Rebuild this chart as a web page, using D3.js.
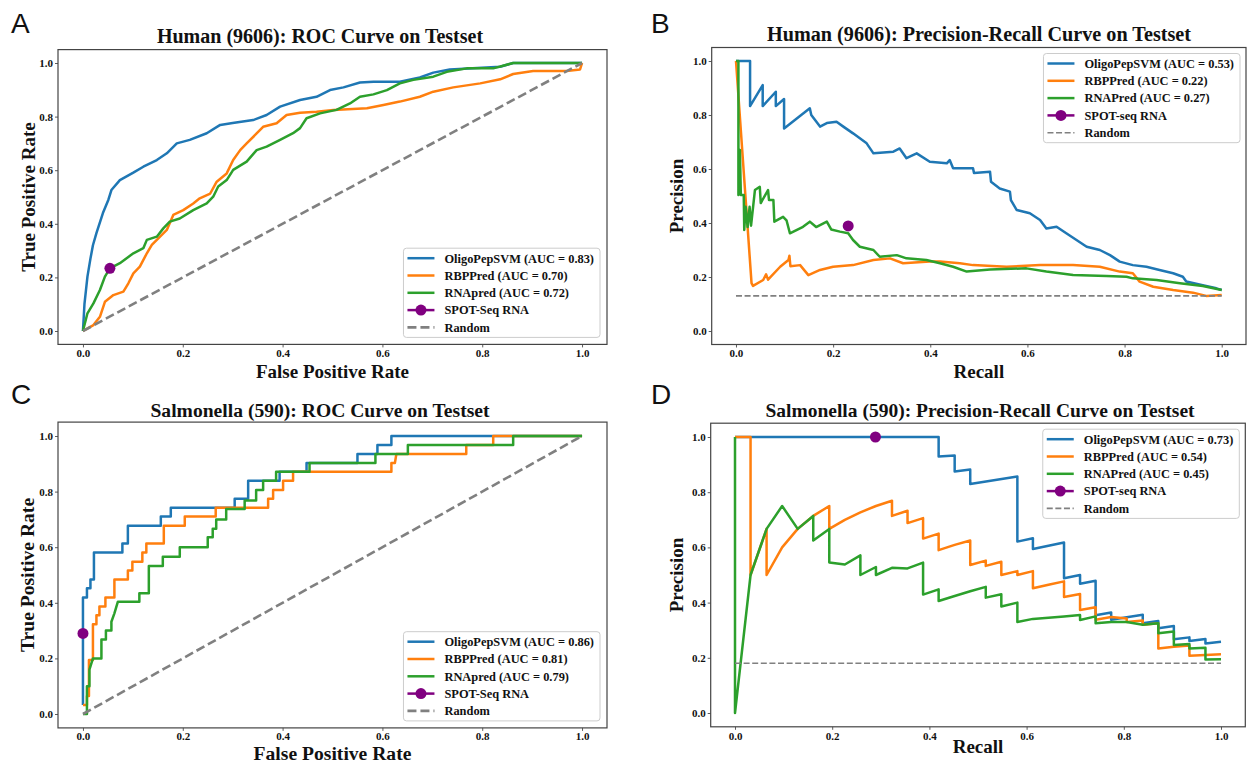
<!DOCTYPE html>
<html>
<head>
<meta charset="utf-8">
<script src="https://cdn.jsdelivr.net/npm/d3@7"></script>
<style>
  body { margin: 0; background: #fff; }
  svg text { font-family: "Liberation Serif", "Times New Roman", serif; font-weight: bold; fill: #111; }
  svg text.letter { font-family: "Liberation Sans", "DejaVu Sans", sans-serif; font-weight: normal; }
</style>
</head>
<body>
<div id="chart"></div>
<script>
// ---- data ----
const ticks = [0, 0.2, 0.4, 0.6, 0.8, 1.0];

// A: Human ROC  [fpr, tpr]
const humanRocOligo = [[0,0],[0.003,0.1],[0.009,0.203],[0.015,0.27],[0.02,0.32],[0.027,0.365],[0.04,0.44],[0.051,0.49],[0.057,0.526],[0.074,0.563],[0.1,0.59],[0.121,0.613],[0.148,0.638],[0.168,0.663],[0.188,0.70],[0.214,0.713],[0.248,0.738],[0.275,0.769],[0.30,0.776],[0.341,0.787],[0.368,0.806],[0.395,0.837],[0.435,0.862],[0.468,0.874],[0.495,0.899],[0.522,0.909],[0.555,0.927],[0.582,0.930],[0.635,0.930],[0.675,0.946],[0.702,0.964],[0.735,0.976],[0.836,0.986],[0.862,1.0],[1.0,1.0]];
const humanRocRbp = [[0,0],[0.021,0.022],[0.034,0.053],[0.044,0.109],[0.061,0.134],[0.081,0.147],[0.091,0.178],[0.101,0.215],[0.114,0.24],[0.128,0.29],[0.138,0.321],[0.151,0.346],[0.168,0.377],[0.181,0.433],[0.201,0.451],[0.221,0.476],[0.234,0.495],[0.255,0.513],[0.268,0.557],[0.288,0.588],[0.301,0.638],[0.315,0.675],[0.328,0.70],[0.348,0.737],[0.361,0.762],[0.388,0.775],[0.408,0.806],[0.435,0.814],[0.468,0.818],[0.502,0.825],[0.569,0.831],[0.602,0.843],[0.635,0.856],[0.675,0.874],[0.702,0.893],[0.742,0.909],[0.796,0.924],[0.836,0.939],[0.862,0.959],[0.902,0.97],[0.969,0.97],[0.996,0.976],[1.0,1.0]];
const humanRocRna = [[0,0],[0.009,0.066],[0.021,0.103],[0.034,0.153],[0.044,0.203],[0.054,0.234],[0.074,0.253],[0.101,0.29],[0.121,0.309],[0.128,0.34],[0.148,0.352],[0.161,0.383],[0.174,0.408],[0.194,0.42],[0.221,0.451],[0.248,0.476],[0.261,0.501],[0.271,0.539],[0.288,0.563],[0.301,0.601],[0.328,0.632],[0.348,0.675],[0.368,0.688],[0.395,0.713],[0.421,0.738],[0.435,0.757],[0.448,0.794],[0.475,0.812],[0.508,0.825],[0.535,0.849],[0.555,0.874],[0.582,0.883],[0.609,0.899],[0.635,0.924],[0.662,0.937],[0.702,0.949],[0.729,0.967],[0.769,0.98],[0.822,0.98],[0.862,1.0],[1.0,1.0]];
const humanRocSpot = [0.054, 0.234];
const humanRocAuc = ['0.83', '0.70', '0.72'];

// B: Human precision-recall  [recall, precision]
const humanPrOligo = [[0,1],[0.029,1],[0.029,0.833],[0.055,0.911],[0.055,0.833],[0.082,0.886],[0.082,0.833],[0.099,0.859],[0.099,0.75],[0.152,0.825],[0.155,0.80],[0.173,0.757],[0.187,0.77],[0.207,0.775],[0.221,0.757],[0.241,0.732],[0.269,0.695],[0.283,0.658],[0.324,0.664],[0.337,0.676],[0.351,0.64],[0.372,0.658],[0.399,0.627],[0.434,0.621],[0.44,0.633],[0.447,0.603],[0.488,0.603],[0.49,0.585],[0.523,0.59],[0.525,0.553],[0.543,0.528],[0.564,0.516],[0.566,0.485],[0.578,0.448],[0.605,0.436],[0.626,0.411],[0.639,0.38],[0.66,0.386],[0.68,0.362],[0.701,0.337],[0.722,0.312],[0.749,0.30],[0.77,0.281],[0.79,0.257],[0.817,0.244],[0.845,0.238],[0.872,0.226],[0.90,0.214],[0.92,0.201],[0.927,0.183],[0.961,0.17],[0.989,0.158],[1.0,0.152]];
const humanPrRbp = [[0,1],[0.032,0.177],[0.035,0.167],[0.056,0.189],[0.062,0.21],[0.066,0.19],[0.091,0.238],[0.108,0.263],[0.11,0.279],[0.112,0.24],[0.132,0.244],[0.149,0.207],[0.173,0.226],[0.20,0.238],[0.241,0.244],[0.283,0.263],[0.317,0.269],[0.344,0.251],[0.399,0.257],[0.42,0.257],[0.461,0.251],[0.488,0.244],[0.557,0.238],[0.626,0.244],[0.694,0.244],[0.749,0.238],[0.79,0.22],[0.817,0.214],[0.831,0.183],[0.859,0.164],[0.90,0.152],[0.941,0.142],[0.968,0.13],[1.0,0.133]];
const humanPrRna = [[0,1],[0.005,1],[0.005,0.504],[0.008,0.67],[0.01,0.504],[0.016,0.504],[0.017,0.374],[0.02,0.46],[0.024,0.385],[0.028,0.46],[0.031,0.39],[0.039,0.522],[0.049,0.534],[0.051,0.474],[0.066,0.522],[0.068,0.485],[0.077,0.485],[0.079,0.405],[0.097,0.423],[0.104,0.41],[0.111,0.362],[0.138,0.386],[0.152,0.405],[0.165,0.385],[0.187,0.405],[0.196,0.376],[0.214,0.368],[0.231,0.362],[0.241,0.337],[0.255,0.312],[0.283,0.30],[0.296,0.275],[0.331,0.281],[0.351,0.269],[0.392,0.263],[0.42,0.251],[0.447,0.238],[0.475,0.22],[0.523,0.228],[0.598,0.232],[0.639,0.22],[0.694,0.207],[0.763,0.204],[0.804,0.201],[0.817,0.195],[0.866,0.189],[0.914,0.177],[0.961,0.167],[1.0,0.152]];
const humanPrSpot = [0.231, 0.389];
const humanPrRandom = 0.13;
const humanPrAuc = ['0.53', '0.22', '0.27'];

// C: Salmonella ROC
const salmRocOligo = [[0,0.032],[0,0.419],[0.008,0.419],[0.008,0.452],[0.015,0.452],[0.015,0.484],[0.022,0.484],[0.022,0.581],[0.079,0.581],[0.079,0.613],[0.09,0.613],[0.09,0.677],[0.156,0.677],[0.156,0.71],[0.176,0.71],[0.176,0.742],[0.304,0.742],[0.304,0.774],[0.331,0.774],[0.331,0.839],[0.394,0.839],[0.394,0.871],[0.448,0.871],[0.448,0.903],[0.55,0.903],[0.55,0.935],[0.59,0.935],[0.59,0.968],[0.618,0.968],[0.618,1.0],[1.0,1.0]];
const salmRocRbp = [[0,0.032],[0.008,0.032],[0.008,0.065],[0.012,0.065],[0.012,0.194],[0.02,0.194],[0.02,0.323],[0.027,0.323],[0.027,0.355],[0.033,0.355],[0.033,0.387],[0.045,0.387],[0.045,0.419],[0.063,0.419],[0.063,0.484],[0.09,0.484],[0.09,0.516],[0.099,0.516],[0.099,0.548],[0.119,0.548],[0.119,0.581],[0.127,0.581],[0.127,0.613],[0.162,0.613],[0.162,0.677],[0.204,0.677],[0.204,0.71],[0.266,0.71],[0.266,0.742],[0.371,0.742],[0.371,0.774],[0.381,0.774],[0.381,0.806],[0.401,0.806],[0.401,0.839],[0.421,0.839],[0.421,0.871],[0.618,0.871],[0.618,0.903],[0.625,0.903],[0.628,0.935],[0.768,0.935],[0.768,0.968],[0.822,0.968],[0.822,1.0],[1.0,1.0]];
const salmRocRna = [[0,0],[0.008,0],[0.008,0.1],[0.013,0.1],[0.013,0.16],[0.02,0.2],[0.037,0.2],[0.037,0.268],[0.046,0.268],[0.046,0.3],[0.057,0.3],[0.057,0.332],[0.063,0.362],[0.07,0.404],[0.113,0.404],[0.113,0.434],[0.132,0.434],[0.132,0.532],[0.16,0.532],[0.16,0.566],[0.194,0.566],[0.194,0.6],[0.25,0.6],[0.25,0.636],[0.26,0.636],[0.26,0.666],[0.267,0.666],[0.267,0.70],[0.287,0.70],[0.287,0.737],[0.324,0.737],[0.324,0.768],[0.347,0.768],[0.347,0.806],[0.361,0.806],[0.361,0.839],[0.387,0.839],[0.387,0.871],[0.454,0.871],[0.454,0.903],[0.586,0.903],[0.586,0.935],[0.651,0.935],[0.651,0.968],[0.862,0.968],[0.862,1.0],[1.0,1.0]];
const salmRocSpot = [0, 0.29];
const salmRocAuc = ['0.86', '0.81', '0.79'];

// D: Salmonella precision-recall
const salmPrOligo = [[0,1],[0.419,1],[0.419,0.929],[0.452,0.933],[0.452,0.875],[0.484,0.882],[0.484,0.83],[0.581,0.857],[0.581,0.621],[0.613,0.633],[0.613,0.594],[0.645,0.606],[0.677,0.618],[0.677,0.488],[0.71,0.5],[0.71,0.468],[0.742,0.479],[0.742,0.354],[0.774,0.364],[0.774,0.338],[0.806,0.347],[0.839,0.356],[0.839,0.325],[0.871,0.333],[0.871,0.307],[0.903,0.315],[0.903,0.267],[0.935,0.274],[0.935,0.261],[0.968,0.268],[0.968,0.252],[1.0,0.258]];
const salmPrRbp = [[0,1],[0.032,1],[0.032,0.5],[0.065,0.667],[0.065,0.5],[0.097,0.6],[0.129,0.667],[0.161,0.714],[0.194,0.75],[0.194,0.667],[0.226,0.7],[0.258,0.727],[0.29,0.75],[0.323,0.769],[0.323,0.714],[0.355,0.733],[0.355,0.688],[0.387,0.706],[0.387,0.632],[0.419,0.65],[0.419,0.59],[0.452,0.609],[0.484,0.625],[0.484,0.536],[0.516,0.552],[0.516,0.533],[0.548,0.548],[0.548,0.5],[0.581,0.514],[0.581,0.5],[0.613,0.514],[0.613,0.452],[0.645,0.465],[0.677,0.477],[0.677,0.42],[0.71,0.431],[0.71,0.373],[0.742,0.383],[0.742,0.338],[0.774,0.348],[0.806,0.342],[0.806,0.33],[0.839,0.335],[0.839,0.32],[0.871,0.325],[0.871,0.234],[0.903,0.24],[0.935,0.245],[0.935,0.207],[0.968,0.21],[1.0,0.213]];
const salmPrRna = [[0,1],[0,0],[0.032,0.5],[0.065,0.667],[0.097,0.75],[0.129,0.667],[0.161,0.714],[0.161,0.625],[0.194,0.667],[0.194,0.545],[0.226,0.538],[0.258,0.571],[0.258,0.5],[0.29,0.529],[0.29,0.5],[0.323,0.526],[0.355,0.524],[0.387,0.545],[0.387,0.429],[0.419,0.448],[0.419,0.406],[0.452,0.424],[0.484,0.441],[0.516,0.457],[0.516,0.418],[0.548,0.43],[0.548,0.386],[0.581,0.4],[0.581,0.33],[0.613,0.341],[0.645,0.345],[0.677,0.35],[0.71,0.355],[0.71,0.337],[0.742,0.35],[0.742,0.325],[0.774,0.33],[0.806,0.33],[0.839,0.32],[0.871,0.325],[0.871,0.289],[0.903,0.295],[0.903,0.246],[0.935,0.25],[0.935,0.234],[0.968,0.236],[0.968,0.194],[1.0,0.195]];
const salmPrSpot = [0.289, 1.0];
const salmPrRandom = 0.18;
const salmPrAuc = ['0.73', '0.54', '0.45'];

const rocRandom = [[0, 0], [1, 1]];

// ---- drawing ----
const width = 1249, height = 764;
const colors = ['#1f77b4', '#ff7f0e', '#2ca02c'];
const spotColor = '#800080';
const randomColor = '#808080';

const svg = d3.select('#chart').append('svg')
  .attr('width', width)
  .attr('height', height);

function drawPanel(p) {
  const x = d3.scaleLinear().domain([-0.05, 1.05]).range([p.box.l, p.box.r]);
  const y = d3.scaleLinear().domain([-0.05, 1.05]).range([p.box.b, p.box.t]);
  const g = svg.append('g');

  // panel letter
  g.append('text').attr('class', 'letter')
    .attr('x', p.letterX).attr('y', p.letterY)
    .style('font-size', '28px')
    .text(p.letter);

  // title
  g.append('text')
    .attr('x', p.titleX).attr('y', p.titleY)
    .attr('text-anchor', 'middle')
    .style('font-size', p.titleSize + 'px')
    .text(p.title);

  // axes: short outward ticks + labels
  const xAxis = g.append('g')
    .attr('transform', 'translate(0,' + p.box.b + ')')
    .call(d3.axisBottom(x).tickValues(ticks).tickFormat(d3.format('.1f')).tickSize(3).tickPadding(p.xPad));
  const yAxis = g.append('g')
    .attr('transform', 'translate(' + p.box.l + ',0)')
    .call(d3.axisLeft(y).tickValues(ticks).tickFormat(d3.format('.1f')).tickSize(3).tickPadding(2));
  [xAxis, yAxis].forEach(a => {
    a.select('.domain').remove();
    a.selectAll('line').attr('stroke', '#333').attr('stroke-width', 0.8);
    a.selectAll('text')
      .style('font-family', '"Liberation Serif", "Times New Roman", serif')
      .style('font-weight', 'bold')
      .style('font-size', '11px')
      .attr('fill', '#111');
  });

  // axis labels
  g.append('text')
    .attr('x', (p.box.l + p.box.r) / 2).attr('y', p.xLabelY)
    .attr('text-anchor', 'middle')
    .style('font-size', p.labelSize + 'px')
    .text(p.xLabel);
  g.append('text')
    .attr('transform', 'translate(' + p.yLabelX + ',' + (p.box.t + p.box.b) / 2 + ') rotate(-90)')
    .attr('text-anchor', 'middle')
    .style('font-size', p.labelSize + 'px')
    .text(p.yLabel);

  const line = d3.line().x(d => x(d[0])).y(d => y(d[1]));

  // method curves
  p.series.forEach((s, i) => {
    g.append('path')
      .datum(s)
      .attr('d', line)
      .attr('fill', 'none')
      .attr('stroke', colors[i])
      .attr('stroke-width', 2.5)
      .attr('stroke-linejoin', 'round');
  });

  // spot-seq single point
  g.append('circle')
    .attr('cx', x(p.spot[0])).attr('cy', y(p.spot[1]))
    .attr('r', 5.5)
    .attr('fill', spotColor);

  // random baseline
  g.append('path')
    .datum(p.random)
    .attr('d', line)
    .attr('fill', 'none')
    .attr('stroke', randomColor)
    .attr('stroke-width', p.randomWidth)
    .attr('stroke-dasharray', p.randomDash);

  // frame
  g.append('rect')
    .attr('x', p.box.l).attr('y', p.box.t)
    .attr('width', p.box.r - p.box.l).attr('height', p.box.b - p.box.t)
    .attr('fill', 'none')
    .attr('stroke', '#444')
    .attr('stroke-width', 1.2);

  // legend
  const labels = [
    'OligoPepSVM (AUC = ' + p.auc[0] + ')',
    'RBPPred (AUC = ' + p.auc[1] + ')',
    p.rnaName + ' (AUC = ' + p.auc[2] + ')',
    p.spotName,
    'Random'
  ];
  const rowH = 17.3;
  const legH = 20 + rowH * 4;
  const lg = g.append('g');
  const frame = lg.append('rect')
    .attr('rx', 3).attr('ry', 3)
    .attr('fill', 'rgba(255,255,255,0.85)')
    .attr('stroke', '#ccc')
    .attr('stroke-width', 1);
  const texts = lg.selectAll('text.leg')
    .data(labels)
    .enter().append('text')
    .attr('class', 'leg')
    .attr('x', 41)
    .attr('y', (d, i) => 10 + i * rowH)
    .attr('dy', '0.35em')
    .style('font-size', '12.4px')
    .text(d => d);
  let maxW = 0;
  texts.each(function () { maxW = Math.max(maxW, this.getComputedTextLength()); });
  const legW = 41 + maxW + 6;
  frame.attr('width', legW).attr('height', legH);

  labels.forEach((lab, i) => {
    const yy = 10 + i * rowH;
    const h = lg.append('line')
      .attr('x1', 4).attr('x2', 31).attr('y1', yy).attr('y2', yy);
    if (i < 3) {
      h.attr('stroke', colors[i]).attr('stroke-width', 2.5);
    } else if (i === 3) {
      h.attr('stroke', spotColor).attr('stroke-width', 2.5);
      lg.append('circle').attr('cx', 17.5).attr('cy', yy).attr('r', 5.5).attr('fill', spotColor);
    } else {
      h.attr('stroke', randomColor).attr('stroke-width', p.randomWidth).attr('stroke-dasharray', p.randomDash);
    }
  });

  const legX = p.box.r - p.legendGap - legW;
  const legY = p.legendPos === 'lower' ? p.box.b - p.legendGap - legH : p.box.t + p.legendGap;
  lg.attr('transform', 'translate(' + legX + ',' + legY + ')');
}

const panels = [
  {
    letter: 'A', letterX: 11, letterY: 33,
    title: 'Human (9606): ROC Curve on Testset', titleX: 320, titleY: 43, titleSize: 20,
    xLabel: 'False Positive Rate', xLabelY: 378, labelSize: 19, xPad: 2,
    yLabel: 'True Positive Rate', yLabelX: 35,
    box: { l: 58, r: 607, t: 49.6, b: 344.4 },
    series: [humanRocOligo, humanRocRbp, humanRocRna],
    spot: humanRocSpot, spotName: 'SPOT-Seq RNA', rnaName: 'RNApred',
    random: rocRandom, randomWidth: 2.6, randomDash: '9,4',
    auc: humanRocAuc, legendPos: 'lower', legendGap: 7
  },
  {
    letter: 'B', letterX: 651, letterY: 33,
    title: 'Human (9606): Precision-Recall Curve on Testset', titleX: 979, titleY: 41, titleSize: 20.2,
    xLabel: 'Recall', xLabelY: 378, labelSize: 19, xPad: 2,
    yLabel: 'Precision', yLabelX: 683,
    box: { l: 711.7, r: 1246, t: 47.5, b: 344.5 },
    series: [humanPrOligo, humanPrRbp, humanPrRna],
    spot: humanPrSpot, spotName: 'SPOT-seq RNA', rnaName: 'RNAPred',
    random: [[0, humanPrRandom], [1, humanPrRandom]], randomWidth: 1.6, randomDash: '6,2.6',
    auc: humanPrAuc, legendPos: 'upper', legendGap: 6
  },
  {
    letter: 'C', letterX: 11, letterY: 404,
    title: 'Salmonella (590): ROC Curve on Testset', titleX: 320, titleY: 417, titleSize: 19.6,
    xLabel: 'False Positive Rate', xLabelY: 760, labelSize: 19.6, xPad: 1.5,
    yLabel: 'True Positive Rate', yLabelX: 34,
    box: { l: 58, r: 607, t: 422.1, b: 727.9 },
    series: [salmRocOligo, salmRocRbp, salmRocRna],
    spot: salmRocSpot, spotName: 'SPOT-Seq RNA', rnaName: 'RNApred',
    random: rocRandom, randomWidth: 2.6, randomDash: '9,4',
    auc: salmRocAuc, legendPos: 'lower', legendGap: 7
  },
  {
    letter: 'D', letterX: 651, letterY: 404,
    title: 'Salmonella (590): Precision-Recall Curve on Testset', titleX: 980, titleY: 417, titleSize: 19.5,
    xLabel: 'Recall', xLabelY: 753, labelSize: 19, xPad: 2,
    yLabel: 'Precision', yLabelX: 683,
    box: { l: 710.7, r: 1245.3, t: 423.2, b: 726.8 },
    series: [salmPrOligo, salmPrRbp, salmPrRna],
    spot: salmPrSpot, spotName: 'SPOT-seq RNA', rnaName: 'RNAPred',
    random: [[0, salmPrRandom], [1, salmPrRandom]], randomWidth: 1.6, randomDash: '6,2.6',
    auc: salmPrAuc, legendPos: 'upper', legendGap: 6
  }
];

panels.forEach(drawPanel);
</script>
</body>
</html>
